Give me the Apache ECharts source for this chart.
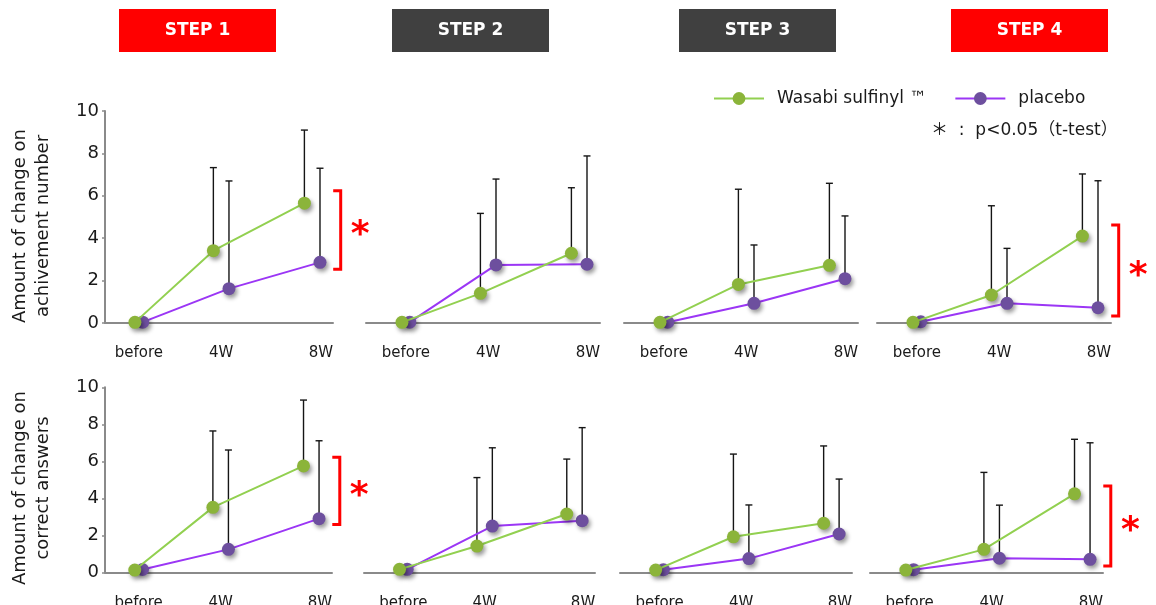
<!DOCTYPE html>
<html>
<head>
<meta charset="utf-8">
<script src="https://cdn.jsdelivr.net/npm/echarts@6/dist/echarts.min.js"></script>
<style>
  html, body { margin: 0; padding: 0; background: #ffffff; }
  #chart { width: 1156px; height: 605px; }
</style>
</head>
<body>
<div id="chart"></div>
<script>
// ---- data ----
const steps = ['STEP 1', 'STEP 2', 'STEP 3', 'STEP 4'];
const highlightedSteps = ['STEP 1', 'STEP 4'];
const timepoints = ['before', '4W', '8W'];
const seriesNames = ['Wasabi sulfinyl ™', 'placebo'];
const rowTitles = ['Amount of change on\nachivement number', 'Amount of change on\ncorrect answers'];
const significanceNote = '＊  :  p<0.05（t-test）';

// Amount of change on achievement number (one row per step: before, 4W, 8W)
const achieveWasabiMean = [
  [0.03, 3.41, 5.65], [0.03, 1.40, 3.29], [0.03, 1.82, 2.72], [0.03, 1.32, 4.10]
];
const achieveWasabiSD = [
  [0, 3.92, 3.45], [0, 3.77, 3.09], [0, 4.49, 3.87], [0, 4.21, 2.93]
];
const achievePlaceboMean = [
  [0.04, 1.62, 2.86], [0.04, 2.74, 2.77], [0.04, 0.93, 2.09], [0.06, 0.93, 0.72]
];
const achievePlaceboSD = [
  [0, 5.08, 4.44], [0, 4.05, 5.11], [0, 2.75, 2.96], [0, 2.59, 5.99]
];

// Amount of change on correct answers
const correctWasabiMean = [
  [0.12, 3.51, 5.75], [0.16, 1.42, 3.15], [0.12, 1.92, 2.65], [0.12, 1.24, 4.24]
];
const correctWasabiSD = [
  [0, 4.13, 3.56], [0, 3.70, 2.97], [0, 4.47, 4.18], [0, 4.16, 2.95]
];
const correctPlaceboMean = [
  [0.15, 1.24, 2.90], [0.16, 2.50, 2.79], [0.14, 0.74, 2.07], [0.14, 0.76, 0.70]
];
const correctPlaceboSD = [
  [0, 5.37, 4.21], [0, 4.23, 5.03], [0, 2.90, 2.97], [0, 2.87, 6.30]
];

// significant differences at 8W: [step index, bracket top, bracket bottom]
const achieveSignificance = [[0, 6.24, 2.53], [3, 4.62, 0.33]];
const correctSignificance = [[0, 6.22, 2.59], [3, 4.66, 0.34]];

// ---- layout & style ----
const FONT = '"DejaVu Sans", "Noto Sans CJK JP", sans-serif';
const TEXT = '#1a1a1a';
const AXIS = '#8a8a8a';
const GREEN_LINE = '#92d050', GREEN_DOT = '#8bb43a';
const PURPLE_LINE = '#9b36f5', PURPLE_DOT = '#6d4f9e';

const catPos = [0, 0.95, 2];          // x position of each time point
const labelPos = [0, 0.95, 2.1];      // where the time point names sit
const dodge = [0.045, 0.09, 0.09];    // horizontal separation of the two groups

const rows = [
  { top: 111, height: 212, lefts: [105, 366, 624, 877], widths: [228, 234, 234, 234],
    wMean: achieveWasabiMean, wSD: achieveWasabiSD, pMean: achievePlaceboMean, pSD: achievePlaceboSD,
    sig: achieveSignificance, titleY: 226 },
  { top: 387.3, height: 185, lefts: [105, 364, 620, 870], widths: [227, 231, 232, 233],
    wMean: correctWasabiMean, wSD: correctWasabiSD, pMean: correctPlaceboMean, pSD: correctPlaceboSD,
    sig: correctSignificance, titleY: 488 }
];

function renderErrorBar(params, api) {
  const sd = api.value(2);
  if (!sd) return null;
  const base = api.coord([api.value(0), api.value(1)]);
  const top = api.coord([api.value(0), api.value(1) + sd]);
  const st = { stroke: '#151515', lineWidth: 1.4 };
  return {
    type: 'group',
    children: [
      { type: 'line', shape: { x1: base[0], y1: base[1], x2: top[0], y2: top[1] }, style: st },
      { type: 'line', shape: { x1: top[0] - 3.5, y1: top[1], x2: top[0] + 3.5, y2: top[1] }, style: st }
    ]
  };
}

function renderBracket(params, api) {
  const hi = api.coord([api.value(0), api.value(1)]);
  const lo = api.coord([api.value(0), api.value(2)]);
  const x0 = hi[0] + 21, x1 = hi[0] + 28.5;
  const st = { stroke: '#ff0000', lineWidth: 3, fill: null };
  return {
    type: 'group',
    children: [
      { type: 'polyline', shape: { points: [[x0, hi[1]], [x1, hi[1]], [x1, lo[1]], [x0, lo[1]]] }, style: st },
      { type: 'text', x: hi[0] + 48, y: (hi[1] + lo[1]) / 2 + 6,
        style: { text: '*', fill: '#ff0000', font: 'bold 36px ' + FONT, align: 'center', verticalAlign: 'middle' } }
    ]
  };
}

const grid = [], xAxis = [], yAxis = [], series = [];

rows.forEach((row, r) => {
  steps.forEach((step, c) => {
    const gi = r * 4 + c;
    grid.push({ left: row.lefts[c], top: row.top, width: row.widths[c], height: row.height,
      containLabel: false, outerBoundsMode: 'none' });
    xAxis.push({
      gridIndex: gi, type: 'value', min: c === 0 ? -0.39 : -0.46, max: 2.24,
      axisLine: { onZero: false, lineStyle: { color: AXIS, width: 2 } },
      axisTick: { show: false }, splitLine: { show: false },
      axisLabel: {
        customValues: labelPos,
        formatter: v => {
          let best = 0;
          labelPos.forEach((p, i) => { if (Math.abs(p - v) < Math.abs(labelPos[best] - v)) best = i; });
          return timepoints[best];
        },
        fontSize: 15, color: TEXT, fontFamily: FONT, margin: 23
      }
    });
    yAxis.push({
      gridIndex: gi, type: 'value', min: 0, max: 10, interval: 2, show: c === 0,
      axisLine: { show: true, onZero: false, lineStyle: { color: AXIS, width: 2 } },
      axisTick: { show: true, length: 3, lineStyle: { color: AXIS, width: 1.5 } },
      splitLine: { show: false },
      axisLabel: { fontSize: 18, color: TEXT, fontFamily: FONT, margin: 6, padding: [6, 0, 0, 0] }
    });

    const groups = [
      { name: seriesNames[1], mean: row.pMean[c], sd: row.pSD[c], sign: 1, line: PURPLE_LINE, dot: PURPLE_DOT },
      { name: seriesNames[0], mean: row.wMean[c], sd: row.wSD[c], sign: -1, line: GREEN_LINE, dot: GREEN_DOT }
    ];
    groups.forEach(g => {
      const xs = catPos.map((p, i) => p + g.sign * dodge[i]);
      series.push({
        type: 'custom', name: g.name + ' SD', xAxisIndex: gi, yAxisIndex: gi, z: 1, clip: false,
        renderItem: renderErrorBar,
        data: xs.map((x, i) => [x, g.mean[i], g.sd[i]]),
        silent: true
      });
    });
    groups.forEach((g, k) => {
      const xs = catPos.map((p, i) => p + g.sign * dodge[i]);
      series.push({
        type: 'line', name: g.name, xAxisIndex: gi, yAxisIndex: gi, z: 3 + k,
        symbol: 'circle', symbolSize: 13,
        lineStyle: { color: g.line, width: 2 },
        itemStyle: { color: g.dot, shadowColor: 'rgba(0,0,0,0.4)', shadowBlur: 4, shadowOffsetX: 2, shadowOffsetY: 3 },
        data: xs.map((x, i) => [x, g.mean[i]])
      });
    });
    row.sig.filter(s => s[0] === c).forEach(s => {
      series.push({
        type: 'custom', name: 'significance', xAxisIndex: gi, yAxisIndex: gi, z: 5, clip: false,
        renderItem: renderBracket, silent: true,
        data: [[catPos[2], s[1], s[2]]]
      });
    });
  });
});

// step header boxes
const stepBoxes = [119, 392, 679, 951];
const graphic = [];
steps.forEach((s, i) => {
  graphic.push({ type: 'rect', left: stepBoxes[i], top: 9, shape: { width: 157, height: 43 },
    style: { fill: highlightedSteps.includes(s) ? '#ff0000' : '#404040' } });
  graphic.push({ type: 'text', x: stepBoxes[i] + 78.5, y: 31,
    style: { text: s, fill: '#ffffff', font: 'bold 17px ' + FONT, align: 'center', verticalAlign: 'middle' } });
});
rows.forEach((row, r) => {
  graphic.push({ type: 'text', x: 32, y: row.titleY, rotation: Math.PI / 2,
    style: { text: rowTitles[r], fill: TEXT, font: '18px ' + FONT, lineHeight: 23, align: 'center', verticalAlign: 'middle' } });
});
graphic.push({ type: 'text', x: 931, y: 131,
  style: { text: significanceNote, fill: TEXT, font: '17px ' + FONT, align: 'left', verticalAlign: 'middle' } });

const chart = echarts.init(document.getElementById('chart'), null, { renderer: 'canvas' });
chart.setOption({
  animation: false,
  backgroundColor: '#ffffff',
  legend: {
    data: seriesNames, left: 708, top: 85, itemWidth: 50, itemHeight: 16, itemGap: 28,
    textStyle: { fontSize: 17, color: TEXT, fontFamily: FONT, padding: [0, 0, 0, 8] }
  },
  grid, xAxis, yAxis, series, graphic
});
</script>
</body>
</html>
